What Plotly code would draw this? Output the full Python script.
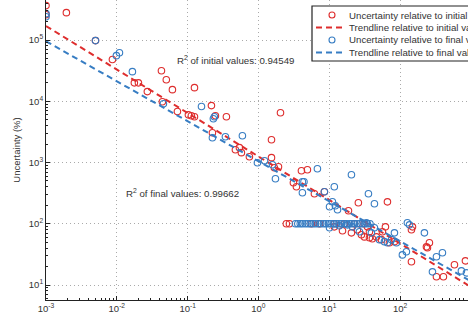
import plotly.graph_objects as go

# ---- data ----
red_x = [0.001, 0.001, 0.00194, 0.005, 0.00867, 0.0177, 0.0202, 0.027, 0.0427, 0.050,
         0.061, 0.125, 0.044, 0.217, 0.0718, 0.1026, 0.113, 0.125, 0.247, 0.353,
         2.05, 0.224, 1.53, 0.473, 0.539, 0.575, 0.746, 1.53, 1.68, 1.92,
         4.05, 4.92, 3.12, 3.44, 6.18, 8.55, 18.7, 25.8, 66.4,
         2.48, 2.74, 5.6, 7.3, 11.8, 16.4, 22.7, 31.0,
         11.8, 15.4, 20.6, 25.0, 28.5, 31.4, 34.7, 37.0, 37.0, 40.7, 46.4, 54.6, 56.4, 62.2, 70.8, 83.4,
         145, 150, 145, 236, 244, 260, 327, 410, 587, 839]
red_y = [3.65e5, 2.6e5, 2.8e5, 9.8e4, 4.8e4, 2.0e4, 2.0e4, 1.44e4, 3.16e4, 2.25e4,
         1.55e4, 1.67e4, 9.8e3, 8.5e3, 6.8e3, 6.0e3, 5.8e3, 5.6e3, 5.8e3, 5.6e3,
         6.5e3, 3.07e3, 2.36e3, 1.62e3, 1.75e3, 1.45e3, 1.24e3, 1.2e3, 823, 853,
         735, 762, 467, 403, 309, 333, 163, 220, 228,
         100, 100, 100, 100, 100, 100, 100, 100,
         89, 77, 71, 80, 66, 61, 89, 74, 59, 57, 61, 55, 74, 89, 49, 51,
         80, 89, 23.9, 42, 40.5, 49, 13.6, 13.6, 21.4, 24.8]

blue_x = [0.001, 0.001, 0.005, 0.00987, 0.0109, 0.0166, 0.0455, 0.157, 0.239, 0.231,
          0.342, 0.224, 0.594, 0.968, 1.22, 1.58, 1.74, 6.81, 4.18, 4.4, 4.18,
          11.8, 8.55, 20.6, 10.1, 11.1, 12.2, 13.1, 35.8, 43.5,
          3.33, 3.6, 3.9, 4.2, 4.6, 5.0, 5.4, 5.9, 6.4, 7.0, 7.6, 8.3, 9.0, 9.8, 10.6,
          11.6, 12.6, 13.7, 14.9, 16.2, 17.6, 19.2, 20.8, 22.7, 24.7, 26.9, 29.2, 31.8, 34.6, 37.6,
          10.1, 13.9, 18.1, 21.3, 26.7, 33.5, 39.4, 43.5, 51.2, 60.2, 66.4, 75.6, 83.4, 89.0,
          127, 136, 108, 123, 221, 327, 397, 287, 736, 867]
blue_y = [2.7e5, 2.4e5, 9.8e4, 5.56e4, 6.2e4, 3.05e4, 9.1e3, 8.2e3, 5.6e3, 5.2e3,
          2.64e3, 2.54e3, 2.74e3, 993, 1.07e3, 920, 543, 792, 485, 485, 321,
          403, 333, 631, 190, 229, 197, 169, 309, 212,
          100, 100, 100, 100, 100, 100, 100, 100, 100, 100, 100, 100, 100, 100, 100,
          100, 100, 100, 100, 100, 100, 100, 100, 100, 100, 100, 100, 100, 100, 100,
          86, 93, 96, 89, 74, 104, 71, 86, 55, 51, 49, 55, 71, 49,
          104, 96, 31, 35, 71, 29, 33.6, 16.4, 17, 15.8]

# trendline y = A * x^b (coefficients)
trend_x = [0.001, 1000]
red_A, red_b = 1256, -0.71
blue_A, blue_b = 1050, -0.653

x_tickvals = [1e-3, 1e-2, 1e-1, 1e0, 1e1, 1e2, 1e3]
x_ticktext = ["10<sup>-3</sup>", "10<sup>-2</sup>", "10<sup>-1</sup>", "10<sup>0</sup>",
              "10<sup>1</sup>", "10<sup>2</sup>", "10<sup>3</sup>"]
y_tickvals = [1e1, 1e2, 1e3, 1e4, 1e5]
y_ticktext = ["10<sup>1</sup>", "10<sup>2</sup>", "10<sup>3</sup>", "10<sup>4</sup>", "10<sup>5</sup>"]

legend_labels = ["Uncertainty relative to initial values", "Trendline relative to initial values",
                 "Uncertainty relative to final values", "Trendline relative to final values"]
r2_initial = "0.94549"
r2_final = "0.99662"

RED = "rgb(222,45,45)"
BLUE = "rgb(55,125,195)"
FONT = "Liberation Sans, Arial, sans-serif"
TXT = "#333"

fig = go.Figure()
fig.add_trace(go.Scatter(x=red_x, y=red_y, mode="markers", name=legend_labels[0],
                         marker=dict(symbol="circle-open", size=6.5, color=RED, line=dict(width=1.1, color=RED))))
fig.add_trace(go.Scatter(x=trend_x, y=[red_A * v ** red_b for v in trend_x], mode="lines", name=legend_labels[1],
                         line=dict(color=RED, width=2, dash="6px,4px")))
fig.add_trace(go.Scatter(x=blue_x, y=blue_y, mode="markers", name=legend_labels[2],
                         marker=dict(symbol="circle-open", size=6.5, color=BLUE, line=dict(width=1.1, color=BLUE))))
fig.add_trace(go.Scatter(x=trend_x, y=[blue_A * v ** blue_b for v in trend_x], mode="lines", name=legend_labels[3],
                         line=dict(color=BLUE, width=2, dash="6px,4px")))

axis_common = dict(
    type="log", tickmode="array",
    showline=True, linecolor="#222", linewidth=1,
    ticks="inside", ticklen=4, tickcolor="#222",
    showgrid=True, gridcolor="#aaaaaa", griddash="1px,3px", gridwidth=1,
    zeroline=False,
    tickfont=dict(family=FONT, size=9.5, color=TXT),
    minor=dict(ticks="inside", ticklen=2, tickcolor="#222", showgrid=False, dtick="D1"),
)

# ---- hand-drawn legend (matches the compact MATLAB legend) ----
px = lambda p: (p - 46) / 422.0        # pixel -> paper x
py = lambda p: 1 - p / 300.0           # pixel -> paper y
rows = [15, 27.5, 40, 52.5]
colors = [RED, RED, BLUE, BLUE]
shapes = [dict(type="rect", xref="paper", yref="paper", x0=px(312), x1=px(560), y0=py(61), y1=py(6),
               line=dict(color="#222", width=1.2), fillcolor="white", layer="above")]
annotations = []
for i, (r, c, lab) in enumerate(zip(rows, colors, legend_labels)):
    if i % 2 == 0:
        shapes.append(dict(type="circle", xref="paper", yref="paper", xsizemode="pixel", ysizemode="pixel",
                           xanchor=px(332), yanchor=py(r), x0=-3, x1=3, y0=-3, y1=3,
                           line=dict(color=c, width=1.1), layer="above"))
    else:
        shapes.append(dict(type="line", xref="paper", yref="paper", x0=px(316), x1=px(346), y0=py(r), y1=py(r),
                           line=dict(color=c, width=2, dash="6px,4px"), layer="above"))
    annotations.append(dict(x=px(347), y=py(r), xref="paper", yref="paper", xanchor="left", yanchor="middle",
                            text=lab, showarrow=False, font=dict(family=FONT, size=9.7, color=TXT)))

annotations += [
    dict(x=0.305, y=0.80, xref="paper", yref="paper", xanchor="left", yanchor="middle",
         text="R<sup>2</sup> of initial values: " + r2_initial, showarrow=False,
         font=dict(family=FONT, size=9.7, color=TXT)),
    dict(x=0.185, y=0.357, xref="paper", yref="paper", xanchor="left", yanchor="middle",
         text="R<sup>2</sup> of final values: " + r2_final, showarrow=False,
         font=dict(family=FONT, size=9.7, color=TXT)),
]

fig.update_layout(
    width=468, height=316,
    margin=dict(l=46, r=0, t=0, b=16, autoexpand=False),
    paper_bgcolor="white", plot_bgcolor="white",
    font=dict(family=FONT, size=9.5, color=TXT),
    showlegend=False,
    xaxis=dict(range=[-3, 2.96], tickvals=x_tickvals, ticktext=x_ticktext, **axis_common),
    yaxis=dict(range=[0.755, 5.654], tickvals=y_tickvals, ticktext=y_ticktext,
               title=dict(text="Uncertainty (%)", font=dict(family=FONT, size=9.5, color=TXT), standoff=6),
               **axis_common),
    shapes=shapes,
    annotations=annotations,
)

fig.write_html("out.html")
